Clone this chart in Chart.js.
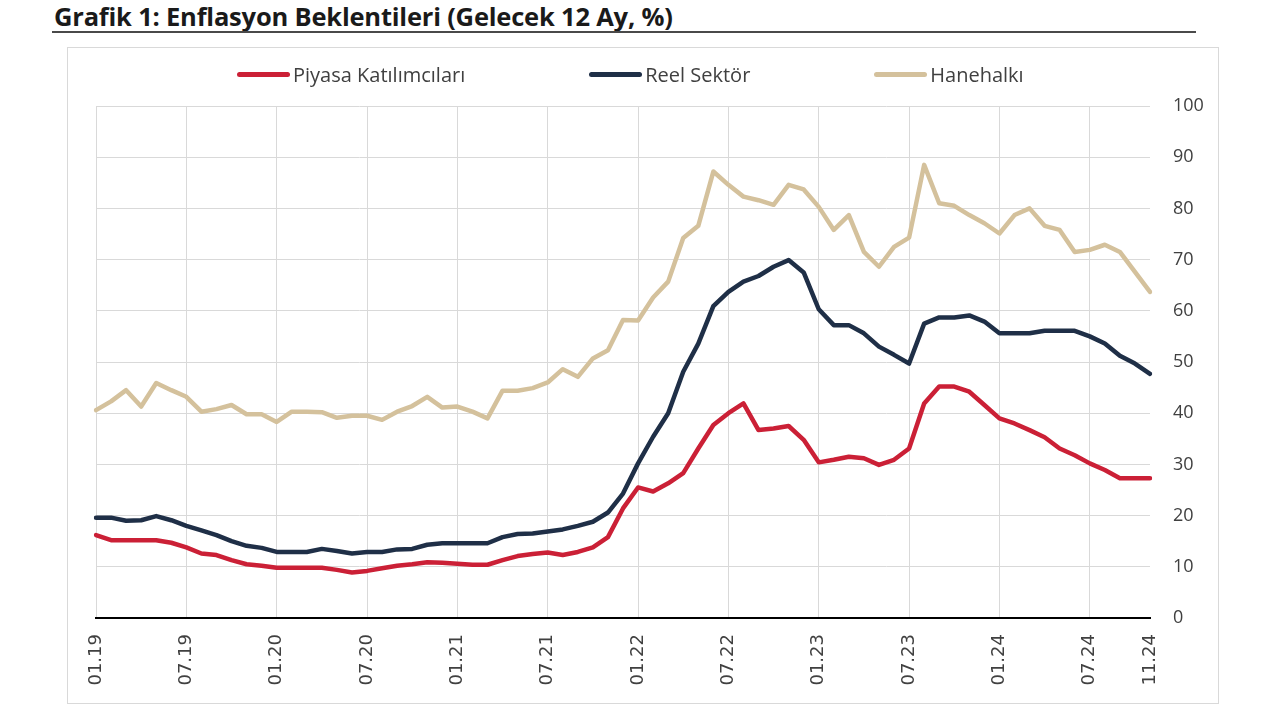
<!DOCTYPE html>
<html lang="tr">
<head>
<meta charset="utf-8">
<title>Grafik 1: Enflasyon Beklentileri</title>
<script src="https://cdn.jsdelivr.net/npm/chart.js@4.4.1/dist/chart.umd.min.js"></script>
<style>
    body { margin: 0; background: #fff; width: 1280px; height: 720px; position: relative; overflow: hidden; }
    .title {
        position: absolute; left: 54px; top: -1px;
        font-family: "Open Sans", sans-serif; font-weight: 700; font-size: 25.5px;
        letter-spacing: -0.2px; color: #1a1a1a; white-space: nowrap;
    }
    .rule { position: absolute; left: 52px; top: 31px; width: 1144px; height: 2px; background: #4a4a4a; }
    .box { position: absolute; left: 67px; top: 47px; width: 1150px; height: 655px; border: 1px solid #d9d9d9; }
    .chart-wrap { position: absolute; left: 67px; top: 47px; width: 1152px; height: 657px; }
    .legend {
        position: absolute; left: 237px; top: 61px; display: flex; gap: 124px;
        font-family: "Open Sans", sans-serif; font-size: 20px; color: #404040;
    }
    .legend-item { display: flex; align-items: center; white-space: nowrap; }
    .legend-line { width: 53px; height: 5px; border-radius: 3px; margin-right: 3px; }
</style>
</head>
<body>
<div class="title">Grafik 1: Enflasyon Beklentileri (Gelecek 12 Ay, %)</div>
<div class="rule"></div>
<div class="box"></div>
<div class="chart-wrap"><canvas id="inflationChart"></canvas></div>
<div class="legend" id="legend"></div>

<script>
const months = [
    '01.19','02.19','03.19','04.19','05.19','06.19','07.19','08.19','09.19','10.19','11.19','12.19',
    '01.20','02.20','03.20','04.20','05.20','06.20','07.20','08.20','09.20','10.20','11.20','12.20',
    '01.21','02.21','03.21','04.21','05.21','06.21','07.21','08.21','09.21','10.21','11.21','12.21',
    '01.22','02.22','03.22','04.22','05.22','06.22','07.22','08.22','09.22','10.22','11.22','12.22',
    '01.23','02.23','03.23','04.23','05.23','06.23','07.23','08.23','09.23','10.23','11.23','12.23',
    '01.24','02.24','03.24','04.24','05.24','06.24','07.24','08.24','09.24','10.24','11.24'
];

const piyasa = [
    16.2, 15.2, 15.2, 15.2, 15.2, 14.7, 13.8, 12.6, 12.3, 11.3,
    10.5, 10.2, 9.8, 9.8, 9.8, 9.8, 9.4, 8.9, 9.2, 9.7,
    10.2, 10.5, 10.9, 10.8, 10.6, 10.4, 10.4, 11.3, 12.1, 12.5,
    12.8, 12.3, 12.9, 13.8, 15.8, 21.4, 25.5, 24.7, 26.3, 28.3,
    33.1, 37.7, 40.0, 41.9, 36.7, 37.0, 37.5, 34.8, 30.4, 30.9,
    31.5, 31.2, 29.9, 30.9, 33.1, 41.9, 45.2, 45.2, 44.2, 41.6,
    39.0, 38.0, 36.7, 35.3, 33.1, 31.8, 30.2, 28.9, 27.3, 27.3, 27.3
];

const reelSektor = [
    19.6, 19.6, 19.0, 19.1, 19.9, 19.1, 18.0, 17.1, 16.2, 15.0,
    14.1, 13.7, 12.9, 12.9, 12.9, 13.5, 13.1, 12.6, 12.9, 12.9,
    13.4, 13.5, 14.3, 14.6, 14.6, 14.6, 14.6, 15.8, 16.4, 16.5,
    16.9, 17.3, 18.0, 18.8, 20.6, 24.3, 30.2, 35.4, 40.0, 48.1,
    53.6, 60.9, 63.7, 65.7, 66.8, 68.6, 69.9, 67.5, 60.3, 57.2,
    57.2, 55.6, 53.0, 51.4, 49.7, 57.5, 58.7, 58.7, 59.1, 57.9,
    55.6, 55.6, 55.6, 56.1, 56.1, 56.1, 55.0, 53.6, 51.2, 49.7, 47.7
];

const hanehalki = [
    40.6, 42.3, 44.5, 41.3, 45.9, 44.5, 43.2, 40.3, 40.8, 41.6,
    39.8, 39.8, 38.3, 40.3, 40.3, 40.2, 39.1, 39.5, 39.5, 38.7,
    40.3, 41.4, 43.2, 41.1, 41.3, 40.3, 39.0, 44.4, 44.4, 44.9,
    46.0, 48.6, 47.1, 50.7, 52.3, 58.2, 58.1, 62.6, 65.7, 74.2,
    76.6, 87.2, 84.6, 82.3, 81.6, 80.7, 84.6, 83.7, 80.3, 75.8,
    78.7, 71.5, 68.6, 72.5, 74.3, 88.5, 81.0, 80.5, 78.7, 77.1,
    75.1, 78.7, 80.0, 76.6, 75.8, 71.5, 71.9, 72.9, 71.5, 67.6, 63.7
];

const seriesNames = ['Piyasa Katılımcıları', 'Reel Sektör', 'Hanehalkı'];
const seriesColors = ['#cb2036', '#1f2f47', '#d4c19c'];
const yTicks = [0, 10, 20, 30, 40, 50, 60, 70, 80, 90, 100];

function isLabelIndex(i) {
    return i % 6 === 0 || i === months.length - 1;
}

function buildLegend() {
    const legend = document.getElementById('legend');
    seriesNames.forEach((name, i) => {
        const item = document.createElement('div');
        item.className = 'legend-item';
        item.innerHTML = `<span class="legend-line" style="background:${seriesColors[i]}"></span><span>${name}</span>`;
        legend.appendChild(item);
    });
}

function drawChart() {
    const ctx = document.getElementById('inflationChart').getContext('2d');
    const values = [piyasa, reelSektor, hanehalki];

    new Chart(ctx, {
        type: 'line',
        data: {
            labels: months,
            datasets: values.map((data, i) => ({
                label: seriesNames[i],
                data: data,
                borderColor: seriesColors[i],
                backgroundColor: seriesColors[i],
                borderWidth: 4.5,
                borderJoinStyle: 'round',
                borderCapStyle: 'round',
                pointRadius: 0,
                tension: 0,
                order: i
            }))
        },
        options: {
            responsive: true,
            maintainAspectRatio: false,
            animation: false,
            layout: {
                padding: { left: 29, top: 59, right: 0, bottom: 0 }
            },
            plugins: {
                legend: { display: false },
                tooltip: { enabled: false }
            },
            scales: {
                x: {
                    offset: false,
                    border: { display: true, color: '#000', width: 2 },
                    grid: {
                        drawTicks: false,
                        color: c => isLabelIndex(c.index) && c.index !== months.length - 1 ? '#d9d9d9' : 'rgba(0,0,0,0)',
                        lineWidth: 1
                    },
                    ticks: {
                        autoSkip: false,
                        minRotation: 90,
                        maxRotation: 90,
                        padding: 16,
                        color: '#404040',
                        font: { family: 'DejaVu Sans', size: 18 },
                        callback: (val, i) => isLabelIndex(i) ? months[i] : ''
                    },
                    afterFit: scale => { scale.height = 86; }
                },
                y: {
                    position: 'right',
                    min: 0,
                    max: 100,
                    border: { display: false },
                    grid: { drawTicks: false, color: '#d9d9d9', lineWidth: 1 },
                    afterBuildTicks: scale => { scale.ticks = yTicks.map(v => ({ value: v })); },
                    ticks: {
                        padding: 23,
                        color: '#404040',
                        font: { family: 'Open Sans', size: 18 }
                    },
                    afterFit: scale => { scale.width = 69; }
                }
            }
        }
    });
}

buildLegend();
drawChart();
</script>
</body>
</html>
